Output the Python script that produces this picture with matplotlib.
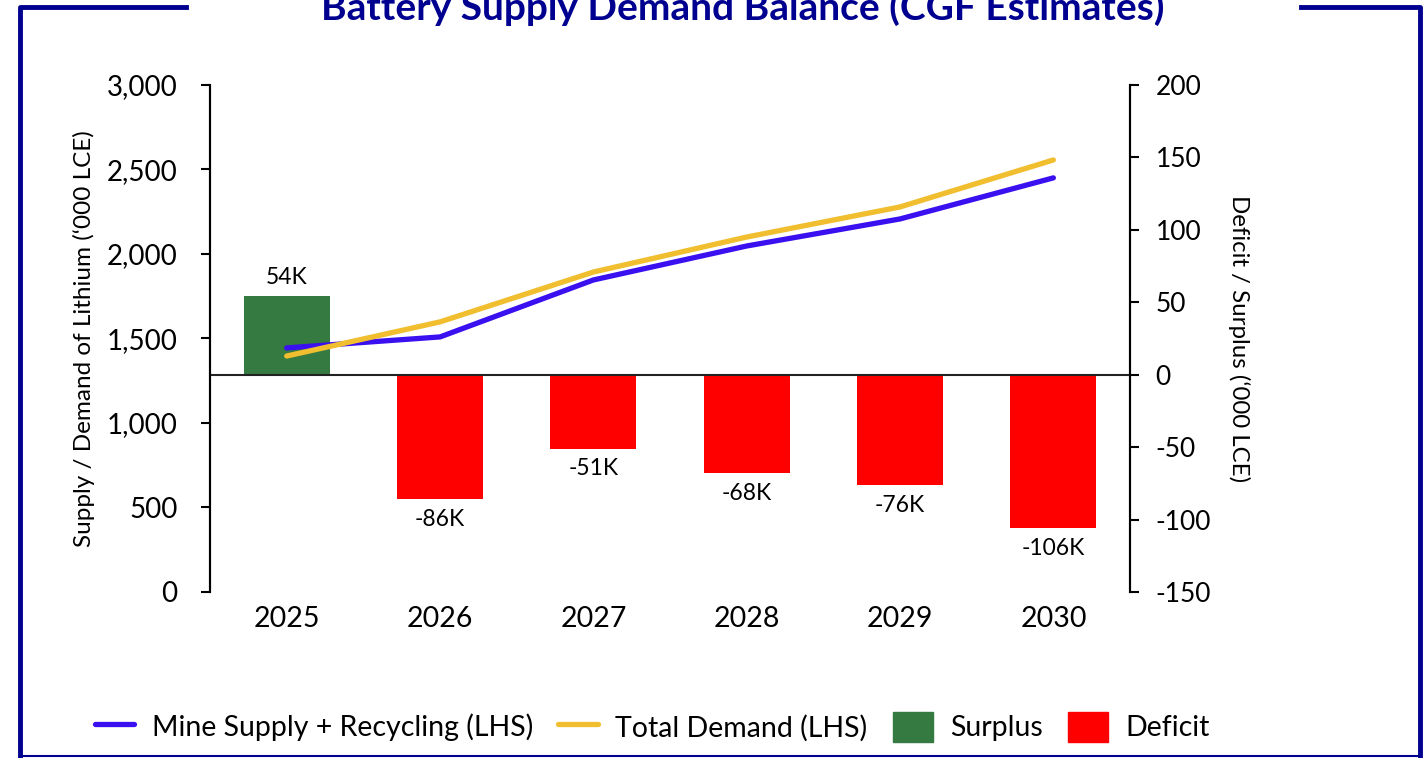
import matplotlib.pyplot as plt
from matplotlib.lines import Line2D
from matplotlib.patches import Patch
from matplotlib.ticker import FuncFormatter

plt.rcParams['font.family'] = ['Lato', 'DejaVu Sans']
plt.rcParams['axes.unicode_minus'] = False

# Data
years = ['2025', '2026', '2027', '2028', '2029', '2030']
supply = [1444, 1509, 1846, 2047, 2207, 2450]   # Mine Supply + Recycling ('000 LCE)
demand = [1396, 1598, 1893, 2100, 2278, 2556]   # Total Demand ('000 LCE)
balance = [54, -86, -51, -68, -76, -106]        # Deficit / Surplus ('000 LCE)
bal_labels = ['54K', '-86K', '-51K', '-68K', '-76K', '-106K']

navy = '#000090'
blue = '#3A0FF0'
gold = '#F0BE2E'
green = '#347A41'
red = '#FF0000'

fig = plt.figure(figsize=(14.27, 7.58), dpi=100)
ax = fig.add_axes([0.1472, 0.219, 0.6447, 0.669])
ax2 = ax.twinx()

x = list(range(len(years)))

# bars on the secondary axis
colors = [green if v >= 0 else red for v in balance]
ax2.bar(x, balance, width=0.56, color=colors, zorder=2)
ax2.axhline(0, color='#222222', lw=1.5, zorder=3)
for i, (v, lab) in enumerate(zip(balance, bal_labels)):
    off = 6 if v >= 0 else -7
    ax2.annotate(lab, (i, v), xytext=(0, off), textcoords='offset points',
                 ha='center', va='bottom' if v >= 0 else 'top', fontsize=16.5)

# lines on the primary axis, drawn above the bars
ax.plot(x, supply, color=blue, lw=3.8, solid_capstyle='round')
ax.plot(x, demand, color=gold, lw=3.8, solid_capstyle='round')
ax.set_zorder(ax2.get_zorder() + 1)
ax.patch.set_visible(False)

ax.set_xlim(-0.5, 5.5)
ax.set_ylim(0, 3000)
ax.set_yticks(range(0, 3001, 500))
ax.yaxis.set_major_formatter(FuncFormatter(lambda v, p: f'{int(v):,}'))
ax2.set_ylim(-150, 200)
ax2.set_yticks(range(-150, 201, 50))

ax.set_xticks(x)
ax.set_xticklabels(years, fontsize=20.5)
ax.tick_params(axis='x', length=0, pad=10)
ax.tick_params(axis='y', labelsize=20, length=6.5, width=1.5, direction='out', pad=17)
ax2.tick_params(axis='y', labelsize=19, length=6.5, width=1.5, direction='out', pad=12)

for a in (ax, ax2):
    a.spines['top'].set_visible(False)
    a.spines['bottom'].set_visible(False)
    a.spines['left'].set_linewidth(1.5)
    a.spines['right'].set_linewidth(1.5)

ax.set_ylabel("Supply / Demand of Lithium (\u2018000 LCE)", fontsize=17.5, labelpad=8)
ax2.set_ylabel("Deficit / Surplus (\u2018000 LCE)", fontsize=17.3, rotation=-90, labelpad=28)

# title and frame
fig.text(0.5205, 0.99, 'Battery Supply Demand Balance (CGF Estimates)', ha='center', va='center',
         fontsize=28, fontweight='bold', color=navy)
fx0, fx1 = 20 / 1427, 1420 / 1427
fy_top, fy_bot = 1 - 7 / 758, 1 - 756 / 758
fig.add_artist(Line2D([0.13, fx0, fx0], [fy_top, fy_top, 0], color=navy, lw=3.5, transform=fig.transFigure))
fig.add_artist(Line2D([0.912, fx1, fx1], [fy_top, fy_top, 0], color=navy, lw=3.5, transform=fig.transFigure))
fig.add_artist(Line2D([fx0, fx1], [fy_bot, fy_bot], color=navy, lw=1.5, transform=fig.transFigure))

handles = [Line2D([], [], color=blue, lw=3.8, solid_capstyle='round'),
           Line2D([], [], color=gold, lw=3.8, solid_capstyle='round'),
           Patch(color=green), Patch(color=red)]
labels = ['Mine Supply + Recycling (LHS)', 'Total Demand (LHS)', 'Surplus', 'Deficit']
fig.legend(handles, labels, loc='center', bbox_to_anchor=(0.457, 0.041), ncol=4, frameon=False,
           fontsize=20.5, handlelength=1.4, handleheight=1.25, columnspacing=0.9, handletextpad=0.6)

fig.savefig('out.png', dpi=100)
